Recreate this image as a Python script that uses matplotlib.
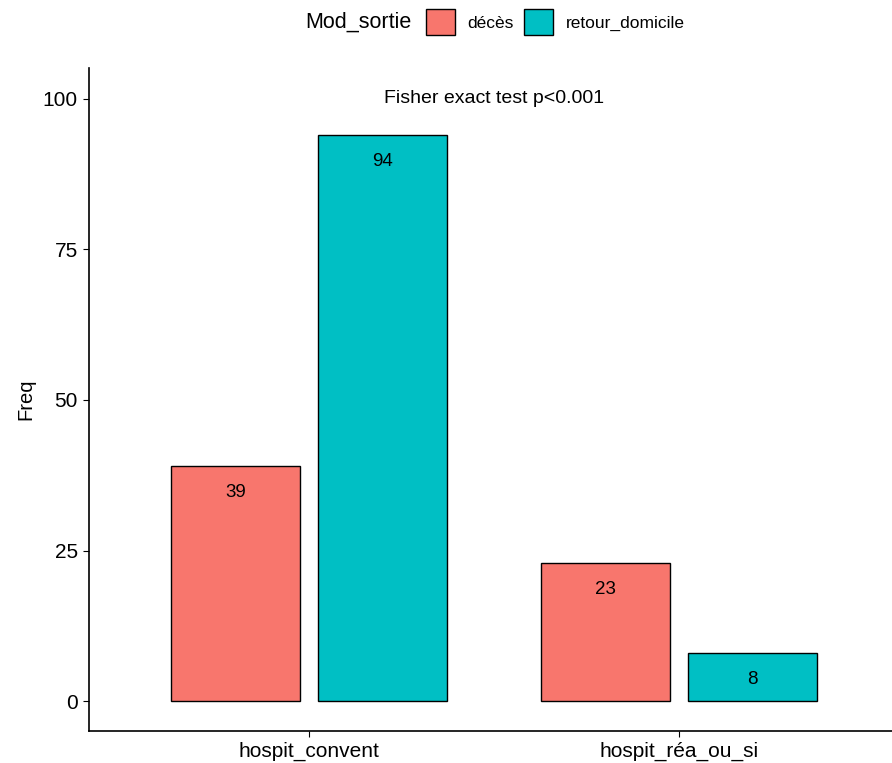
import numpy as np
import matplotlib.pyplot as plt
from matplotlib.patches import Patch
from matplotlib.offsetbox import HPacker

plt.rcParams['font.family'] = ['Liberation Sans', 'DejaVu Sans']

categories = ['hospit_convent', 'hospit_réa_ou_si']
groups = ['décès', 'retour_domicile']
deces = [39, 23]
retour = [94, 8]
colors = ['#F8766D', '#00BFC4']

fig = plt.figure(figsize=(8.92, 7.63), dpi=100)
ax = fig.add_axes([89 / 892, 32 / 763, 1 - 89 / 892, (731 - 68) / 763])

x = np.arange(1, len(categories) + 1)
width = 0.35
offset = 0.199
for vals, col, sgn in [(deces, colors[0], -1), (retour, colors[1], 1)]:
    bars = ax.bar(x + sgn * offset, vals, width=width, color=col,
                  edgecolor='black', linewidth=1)
    for b, v in zip(bars, vals):
        ax.text(b.get_x() + b.get_width() / 2, v - 4.4, str(v),
                ha='center', va='center', fontsize=13.5)

ax.text(1.5, 100, 'Fisher exact test p<0.001', ha='center', va='center', fontsize=14)

ax.set_xlim(0.405, 2.576)
ax.set_ylim(-4.95, 105.1)
ax.set_xticks(x)
ax.set_xticklabels(categories, fontsize=15)
ax.set_yticks([0, 25, 50, 75, 100])
ax.tick_params(axis='y', labelsize=15, length=4, pad=4)
ax.tick_params(axis='x', length=4, pad=4)
ax.set_ylabel('Freq', fontsize=14.5, labelpad=5)
for s in ['top', 'right']:
    ax.spines[s].set_visible(False)
for s in ['left', 'bottom']:
    ax.spines[s].set_linewidth(1.2)

handles = [Patch(facecolor=c, edgecolor='black', linewidth=1) for c in colors]
leg = fig.legend(handles, groups, title='Mod_sortie', loc='center',
                 bbox_to_anchor=(495 / 892, 1 - 22 / 763), ncol=2, frameon=False,
                 fontsize=12.5, title_fontsize=15.5, handlelength=1.7, handleheight=2.0,
                 handletextpad=0.7, columnspacing=0.6)
# put title on the same row as the keys
title_box = leg._legend_title_box
handle_box = leg._legend_handle_box
leg._legend_box._children = [HPacker(pad=0, sep=10, align='center',
                                     children=[title_box, handle_box])]

fig.savefig('out.png', dpi=100)
